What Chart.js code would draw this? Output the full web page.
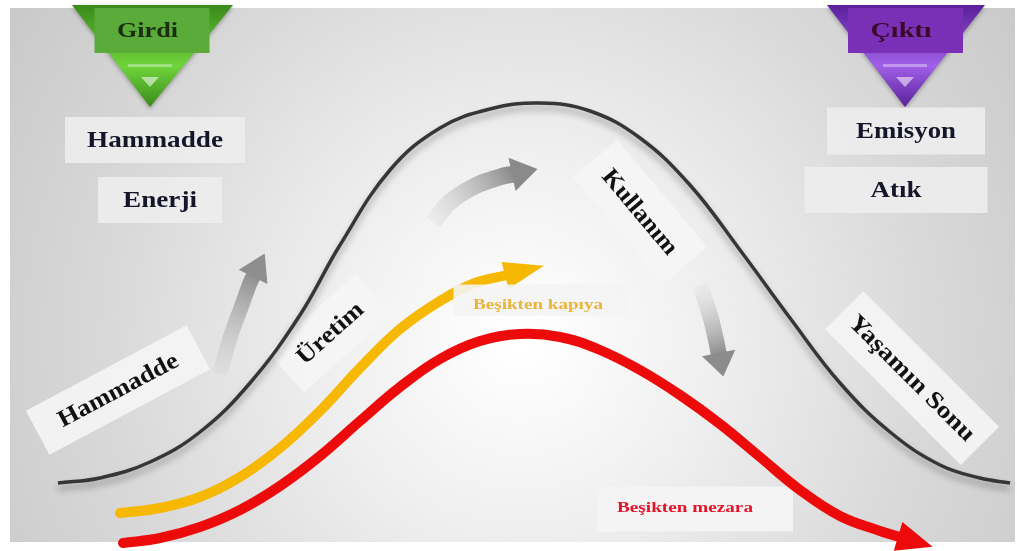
<!DOCTYPE html>
<html lang="tr">
<head>
<meta charset="utf-8">
<title>Yaşam Döngüsü</title>
<script src="https://cdn.jsdelivr.net/npm/chart.js@4.4.1/dist/chart.umd.min.js"></script>
<style>
    html, body { margin: 0; padding: 0; background: #ffffff; }
    #wrap { width: 1017px; height: 551px; position: relative; }
</style>
</head>
<body>
<div id="wrap"><canvas id="lifeChart"></canvas></div>
<script>
// Curves (x to the right, y downwards, in picture units)
const lifeX = [58, 100, 150, 200, 250, 300, 340, 390, 440, 490, 540, 590, 640, 690, 740, 790, 840, 890, 940, 980, 1010];
const lifeY = [483, 478, 462, 432, 383, 315, 245, 170, 128, 109, 103, 111, 138, 185, 250, 318, 383, 432, 465, 478, 483];

const gateX = [120, 160, 200, 240, 280, 320, 360, 400, 440, 475, 507];
const gateY = [513, 508, 497, 477, 448, 411, 368, 329, 301, 283, 275];

const graveX = [123, 160, 200, 240, 280, 320, 360, 400, 440, 480, 520, 560, 600, 640, 680, 720, 760, 800, 840, 880, 900];
const graveY = [543, 538, 527, 510, 486, 456, 421, 387, 359, 341, 334, 337, 350, 370, 395, 424, 457, 490, 516, 531, 537];

// Gray step arrows
const upX = [220, 230, 242, 250, 254];
const upY = [374, 338, 305, 283, 275];
const overX = [433, 450, 475, 500, 514];
const overY = [222, 202, 186, 177, 174];
const downX = [700, 710, 716, 719];
const downY = [285, 315, 340, 355];

// Texts
const inputTitle = 'Girdi';
const outputTitle = 'Çıktı';
const inputs = ['Hammadde', 'Enerji'];
const outputs = ['Emisyon', 'Atık'];
const stages = ['Hammadde', 'Üretim', 'Kullanım', 'Yaşamın Sonu'];
const scopes = ['Beşikten kapıya', 'Beşikten mezara'];

// Layout of the text boxes (centre x, centre y, w, h, angle, text width)
const inputBoxes = [[155, 140, 180, 46, 0, 136], [160, 200, 124, 46, 0, 74]];
const outputBoxes = [[906, 131, 158, 47, 0, 100], [896, 190, 183, 46, 0, 51]];
const stageBoxes = [
    [118, 390, 182, 50, -28, 133],
    [330, 333, 118, 54, -42, 81],
    [640, 212, 140, 58, 50, 104],
    [912, 378, 192, 54, 45, 168]
];

// gray arrows: dataset index, x, y, faded tail colour, head colour
const grayArrows = [
    [3, upX, upY, 'rgba(200,200,200,0.2)', '#8e8e8e'],
    [4, overX, overY, 'rgba(225,225,225,0.4)', '#8a8a8a'],
    [5, downX, downY, 'rgba(225,225,225,0.3)', '#8c8c8c']
];

function pt(chart, x, y) {
    return [chart.scales.x.getPixelForValue(x), chart.scales.y.getPixelForValue(y)];
}

function toPoints(xs, ys) {
    return xs.map((x, i) => ({ x: x, y: ys[i] }));
}

// text squeezed/stretched to the width seen in the picture
function fitText(ctx, text, cx, cy, size, width, color, angle) {
    ctx.save();
    ctx.translate(cx, cy);
    ctx.rotate((angle || 0) * Math.PI / 180);
    ctx.font = 'bold ' + size + 'px "Liberation Serif", "Times New Roman", serif';
    ctx.textAlign = 'center';
    ctx.textBaseline = 'middle';
    const w = ctx.measureText(text).width;
    ctx.scale(width / w, 1);
    ctx.fillStyle = color;
    ctx.fillText(text, 0, 1);
    ctx.restore();
}

function box(ctx, cx, cy, w, h, angle, fill) {
    ctx.save();
    ctx.translate(cx, cy);
    ctx.rotate(angle * Math.PI / 180);
    ctx.fillStyle = fill;
    ctx.fillRect(-w / 2, -h / 2, w, h);
    ctx.restore();
}

function funnel(ctx, chart, left, right, tipX, tipY, dark, light, boxFill, title, textColor) {
    const a = pt(chart, left, 5), b = pt(chart, right, 5), t = pt(chart, tipX, tipY);
    const g = ctx.createLinearGradient(0, a[1], 0, t[1]);
    g.addColorStop(0, dark);
    g.addColorStop(0.6, light);
    g.addColorStop(1, dark);
    ctx.save();
    ctx.shadowColor = 'rgba(0,0,0,0.3)';
    ctx.shadowBlur = 4;
    ctx.shadowOffsetY = 2;
    ctx.beginPath();
    ctx.moveTo(a[0], a[1]);
    ctx.lineTo(b[0], b[1]);
    ctx.lineTo(t[0], t[1]);
    ctx.closePath();
    ctx.fillStyle = g;
    ctx.fill();
    ctx.restore();
    // highlight and small chevron
    ctx.save();
    ctx.fillStyle = 'rgba(255,255,255,0.35)';
    ctx.fillRect(t[0] - 22, t[1] - 43, 44, 3);
    ctx.beginPath();
    ctx.moveTo(t[0] - 9, t[1] - 30);
    ctx.lineTo(t[0] + 9, t[1] - 30);
    ctx.lineTo(t[0], t[1] - 20);
    ctx.closePath();
    ctx.fillStyle = 'rgba(255,255,255,0.55)';
    ctx.fill();
    ctx.restore();
    const bx = (a[0] + b[0]) / 2;
    ctx.fillStyle = boxFill;
    ctx.fillRect(bx - 58, 8, 115, 45);
    fitText(ctx, title, bx - 5, 31, 21, 61, textColor, 0);
}

function head(ctx, chart, xs, ys, len, wid, color) {
    const n = xs.length;
    const p = pt(chart, xs[n - 1], ys[n - 1]);
    const q = pt(chart, xs[n - 2], ys[n - 2]);
    const ang = Math.atan2(p[1] - q[1], p[0] - q[0]);
    ctx.save();
    ctx.translate(p[0], p[1]);
    ctx.rotate(ang);
    ctx.beginPath();
    ctx.moveTo(-2, -wid / 2);
    ctx.lineTo(len, 0);
    ctx.lineTo(-2, wid / 2);
    ctx.closePath();
    ctx.fillStyle = color;
    ctx.fill();
    ctx.restore();
}

const decor = {
    id: 'decor',
    beforeDraw(chart) {
        const ctx = chart.ctx;
        ctx.save();
        ctx.fillStyle = '#ffffff';
        ctx.fillRect(0, 0, chart.width, chart.height);
        const c = pt(chart, 520, 340);
        const g = ctx.createRadialGradient(c[0], c[1], 10, c[0], c[1], 620);
        g.addColorStop(0, '#ffffff');
        g.addColorStop(0.3, '#efefef');
        g.addColorStop(0.65, '#d9d9d9');
        g.addColorStop(1, '#c8c8c8');
        ctx.fillStyle = g;
        ctx.fillRect(10, 8, 1005, 534);
        ctx.restore();

        // inputs / outputs
        funnel(ctx, chart, 72, 233, 150, 107, '#3a8a1a', '#6fd43a', '#5aab3a', inputTitle, '#1c2e12');
        funnel(ctx, chart, 827, 985, 905, 107, '#5a1f9a', '#a060e8', '#7a30b6', outputTitle, '#3a0a2a');
        inputs.forEach((t, i) => {
            const b = inputBoxes[i];
            box(ctx, b[0], b[1], b[2], b[3], b[4], 'rgba(236,236,236,0.95)');
            fitText(ctx, t, b[0], b[1], 23, b[5], '#16162a', b[4]);
        });
        outputs.forEach((t, i) => {
            const b = outputBoxes[i];
            box(ctx, b[0], b[1], b[2], b[3], b[4], 'rgba(236,236,236,0.95)');
            fitText(ctx, t, b[0], b[1], 23, b[5], '#16162a', b[4]);
        });
        stages.forEach((t, i) => {
            const b = stageBoxes[i];
            box(ctx, b[0], b[1], b[2], b[3], b[4], 'rgba(245,245,245,0.9)');
            fitText(ctx, t, b[0], b[1], 24, b[5], '#111111', b[4]);
        });
        // Beşikten mezara label sits under the red curve
        box(ctx, 695, 509, 196, 45, 0, 'rgba(244,244,244,0.97)');
        fitText(ctx, scopes[1], 685, 507, 15, 136, '#e2162a', 0);
    },
    beforeDatasetsDraw(chart) {
        // gradients for the gray arrows need the finished scales
        grayArrows.forEach(([idx, xs, ys, c0, c1]) => {
            const meta = chart.getDatasetMeta(idx);
            const a = pt(chart, xs[0], ys[0]);
            const b = pt(chart, xs[xs.length - 1], ys[ys.length - 1]);
            const g = chart.ctx.createLinearGradient(a[0], a[1], b[0], b[1]);
            g.addColorStop(0, c0);
            g.addColorStop(1, c1);
            meta.dataset.options.borderColor = g;
        });
    },
    beforeDatasetDraw(chart, args) {
        if (args.index === 0) {
            chart.ctx.save();
            chart.ctx.shadowColor = 'rgba(0,0,0,0.35)';
            chart.ctx.shadowBlur = 7;
            chart.ctx.shadowOffsetY = 5;
        }
    },
    afterDatasetDraw(chart, args) {
        if (args.index === 0) chart.ctx.restore();
    },
    afterDatasetsDraw(chart) {
        const ctx = chart.ctx;
        head(ctx, chart, gateX, gateY, 38, 28, '#f6b800');
        head(ctx, chart, graveX, graveY, 34, 30, '#ec0a0a');
        grayArrows.forEach(([idx, xs, ys, c0, c1], i) => {
            head(ctx, chart, xs, ys, [24, 24, 22][i], [32, 34, 34][i], c1);
        });
        // Beşikten kapıya label over the yellow arrow
        box(ctx, 541, 300, 175, 31, 0, 'rgba(244,244,244,0.9)');
        fitText(ctx, scopes[0], 538, 304, 15, 130, '#e9b53a', 0);
    }
};

function createChart() {
    const ctx = document.getElementById('lifeChart').getContext('2d');
    new Chart(ctx, {
        type: 'line',
        data: {
            datasets: [
                { data: toPoints(lifeX, lifeY), borderColor: '#363636', borderWidth: 3.5, tension: 0.4 },
                { data: toPoints(gateX, gateY), borderColor: '#f6b800', borderWidth: 10, tension: 0.4, borderCapStyle: 'round' },
                { data: toPoints(graveX, graveY), borderColor: '#ec0a0a', borderWidth: 10, tension: 0.4, borderCapStyle: 'round' },
                { data: toPoints(upX, upY), borderColor: '#8e8e8e', borderWidth: 15, tension: 0.4 },
                { data: toPoints(overX, overY), borderColor: '#8a8a8a', borderWidth: 17, tension: 0.4 },
                { data: toPoints(downX, downY), borderColor: '#8c8c8c', borderWidth: 16, tension: 0.4 }
            ]
        },
        options: {
            responsive: true,
            maintainAspectRatio: false,
            animation: false,
            layout: { padding: 0 },
            elements: { point: { radius: 0 } },
            datasets: { line: { clip: false } },
            scales: {
                x: { type: 'linear', min: 0, max: 1017, display: false },
                y: { type: 'linear', min: 0, max: 551, reverse: true, display: false }
            },
            plugins: { legend: { display: false }, tooltip: { enabled: false } }
        },
        plugins: [decor]
    });
}

document.addEventListener('DOMContentLoaded', () => {
    createChart();
});
</script>
</body>
</html>
